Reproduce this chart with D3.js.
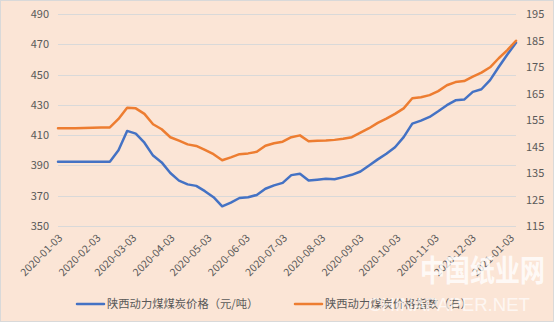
<!DOCTYPE html>
<html>
<head>
<meta charset="utf-8">
<script src="https://cdn.jsdelivr.net/npm/d3@7"></script>
<style>
  html, body { margin: 0; padding: 0; background: #ffffff; }
  svg { display: block; }
</style>
</head>
<body>
<div id="chart"></div>
<script>
// ---- data ----
const dates = [
  "2020-01-03","2020-01-10","2020-01-17","2020-01-24","2020-01-31","2020-02-07","2020-02-14","2020-02-21","2020-02-28",
  "2020-03-06","2020-03-13","2020-03-20","2020-03-27","2020-04-03","2020-04-10","2020-04-17","2020-04-24",
  "2020-05-01","2020-05-08","2020-05-15","2020-05-22","2020-05-29","2020-06-05","2020-06-12","2020-06-19","2020-06-26",
  "2020-07-03","2020-07-10","2020-07-17","2020-07-24","2020-07-31","2020-08-07","2020-08-14","2020-08-21","2020-08-28",
  "2020-09-04","2020-09-11","2020-09-18","2020-09-25","2020-10-02","2020-10-09","2020-10-16","2020-10-23","2020-10-30",
  "2020-11-06","2020-11-13","2020-11-20","2020-11-27","2020-12-04","2020-12-11","2020-12-18","2020-12-25","2021-01-01","2021-01-08"
];
const priceSeries = [ // 陕西动力煤煤炭价格（元/吨） – left axis
  392.5,392.5,392.5,392.5,392.5,392.5,392.5,400,412.8,
  411,405,396.5,392,385,380,377.5,376.5,
  373,369,363,365.5,368.5,369,370.5,374.6,376.8,
  378.5,383.6,384.5,380,380.6,381.2,380.9,382.3,383.8,
  386,390,394,397.7,402,408.7,417.6,419.6,422,
  425.8,429.8,433,433.5,438.6,440.3,446.3,455,463.3,471
];
const indexSeries = [ // 陕西动力煤炭价格指数（右） – right axis
  151.9,151.9,151.9,152.0,152.1,152.2,152.2,155.4,159.6,
  159.4,157.3,153.4,151.5,148.5,147.2,145.8,145.2,
  143.7,142.1,139.8,140.9,142.1,142.4,143,145.3,146.2,
  146.8,148.5,149.2,147,147.2,147.3,147.5,147.9,148.5,
  150.2,151.9,153.9,155.5,157.3,159.4,163.2,163.6,164.4,
  165.9,168.1,169.3,169.7,171.4,172.9,174.9,178.3,181.4,184.9
];
const leftTicks = [350,370,390,410,430,450,470,490];
const rightTicks = [115,125,135,145,155,165,175,185,195];
const xTickLabels = ["2020-01-03","2020-02-03","2020-03-03","2020-04-03","2020-05-03","2020-06-03",
  "2020-07-03","2020-08-03","2020-09-03","2020-10-03","2020-11-03","2020-12-03","2021-01-03"];
const seriesNames = ["陕西动力煤煤炭价格（元/吨）","陕西动力煤炭价格指数（右）"];
const colors = ["#4472C4","#ED7D31"];

// ---- drawing ----
const W = 554, H = 323;
const parse = d3.utcParse("%Y-%m-%d");
const plot = {left: 58, right: 516, top: 14, bottom: 226};
const font = "'Noto Sans CJK SC','Noto Sans',sans-serif";

const svg = d3.select("#chart").append("svg").attr("width", W).attr("height", H);
svg.append("rect").attr("x",0.5).attr("y",0.5).attr("width",W-1).attr("height",H-2)
   .attr("fill","#FBE5D6").attr("stroke","#D9D9D9");

const x = d3.scaleUtc().domain([parse(dates[0]), parse(dates[dates.length-1])]).range([plot.left, plot.right]);
const yL = d3.scaleLinear().domain([350,490]).range([plot.bottom, plot.top]);
const yR = d3.scaleLinear().domain([115,195]).range([plot.bottom, plot.top]);

// gridlines
svg.append("g").selectAll("line").data(leftTicks).join("line")
  .attr("x1", plot.left).attr("x2", plot.right)
  .attr("y1", d => Math.round(yL(d)) + 0.5).attr("y2", d => Math.round(yL(d)) + 0.5)
  .attr("stroke", "#D9D9D9").attr("stroke-width", 1);

// left axis
const gL = svg.append("g").attr("transform", `translate(${plot.left},0)`)
  .call(d3.axisLeft(yL).tickValues(leftTicks).tickSize(0).tickPadding(9));
gL.select(".domain").remove();
gL.selectAll("text").attr("fill","#595959").style("font-family",font).style("font-size","11px");

// right axis
const gR = svg.append("g").attr("transform", `translate(${plot.right},0)`)
  .call(d3.axisRight(yR).tickValues(rightTicks).tickSize(0).tickPadding(10));
gR.select(".domain").remove();
gR.selectAll("text").attr("fill","#595959").style("font-family",font).style("font-size","11px");

// x axis labels (rotated)
const gX = svg.append("g").attr("transform", `translate(0,${plot.bottom})`)
  .call(d3.axisBottom(x).tickValues(xTickLabels.map(parse)).tickSize(0).tickFormat((d,i) => xTickLabels[i]));
gX.select(".domain").remove();
gX.selectAll("text")
  .attr("fill","#595959").style("font-family",font).style("font-size","10.5px")
  .attr("text-anchor","end").attr("dy","0.35em").attr("y",0)
  .attr("transform", "translate(2,10) rotate(-45)");

// lines
const series = [
  {vals: priceSeries, y: yL, color: colors[0]},
  {vals: indexSeries, y: yR, color: colors[1]}
];
series.forEach(s => {
  const line = d3.line().x((d,i) => x(parse(dates[i]))).y(d => s.y(d));
  svg.append("path").datum(s.vals).attr("d", line)
    .attr("fill","none").attr("stroke", s.color).attr("stroke-width", 2.5)
    .attr("stroke-linejoin","round").attr("stroke-linecap","round");
});

// legend
const legendItems = [{x: 77, name: seriesNames[0], color: colors[0]}, {x: 295, name: seriesNames[1], color: colors[1]}];
const lg = svg.append("g");
legendItems.forEach(it => {
  lg.append("line").attr("x1", it.x).attr("x2", it.x + 27).attr("y1", 304).attr("y2", 304)
    .attr("stroke", it.color).attr("stroke-width", 2.5).attr("stroke-linecap","round");
  lg.append("text").attr("x", it.x + 30).attr("y", 304).attr("dy","0.35em")
    .attr("fill","#595959").style("font-family",font).style("font-size","11.3px").text(it.name);
});

// watermark
svg.append("text").attr("x", 420).attr("y", 281)
  .attr("textLength", 125).attr("lengthAdjust", "spacingAndGlyphs")
  .attr("fill","#ffffff").attr("fill-opacity",0.8).style("font-family","'Noto Sans CJK SC',serif")
  .style("font-size","30px").style("font-weight","bold").text("中国纸业网");
svg.append("text").attr("x", 368).attr("y", 311)
  .attr("textLength", 162).attr("lengthAdjust", "spacingAndGlyphs")
  .attr("fill","#ffffff").attr("fill-opacity",0.7).style("font-family","'Liberation Sans',sans-serif")
  .style("font-size","19px").text("CHINAPAPER.NET");
</script>
</body>
</html>
